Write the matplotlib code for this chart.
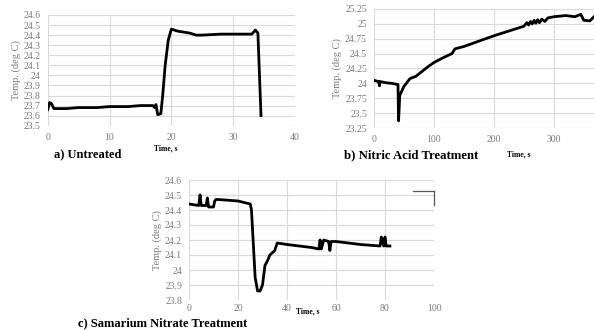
import numpy as np
import matplotlib
matplotlib.use('Agg')
import matplotlib.pyplot as plt

plt.rcParams['font.family'] = ['Liberation Serif', 'DejaVu Serif']

# ---------------------- data ----------------------
# a) Untreated
a_t = [0, 0.3, 0.6, 1.0, 3, 5, 8, 10, 13, 15, 17, 17.3, 17.5, 17.8, 18.3, 18.6, 19.0, 19.5, 20.0,
       21, 23, 24, 25, 28, 30, 33, 33.6, 34.0, 34.5]
a_T = [23.66, 23.73, 23.72, 23.67, 23.67, 23.68, 23.68, 23.69, 23.69, 23.70, 23.70, 23.68, 23.71, 23.61,
       23.62, 23.80, 24.10, 24.35, 24.46, 24.44, 24.42, 24.40, 24.40, 24.41, 24.41, 24.41, 24.45, 24.42, 23.60]

# b) Nitric Acid Treatment
b_t = [0, 8, 9, 10, 11, 20, 30, 40, 41, 43, 50, 60, 70, 80, 90, 100, 115, 130, 135, 150, 175, 200,
       225, 250, 255, 258, 261, 264, 267, 270, 273, 276, 280, 285, 290, 300, 320, 335, 345, 350, 360, 367]
b_T = [24.05, 24.03, 23.96, 24.03, 24.03, 24.01, 24.00, 23.98, 23.37, 23.80, 23.95, 24.08, 24.12, 24.20,
       24.28, 24.35, 24.43, 24.50, 24.58, 24.62, 24.71, 24.80, 24.88, 24.96, 25.02, 24.98, 25.04, 25.00,
       25.06, 25.01, 25.07, 25.02, 25.08, 25.04, 25.10, 25.12, 25.14, 25.12, 25.16, 25.06, 25.05, 25.12]

# c) Samarium Nitrate Treatment
c_t = [0, 4, 4.5, 5, 7, 7.5, 8, 8.5, 10, 10.5, 11, 12, 20, 25, 25.5, 27, 28, 29, 30, 31, 32, 33, 35,
       36, 40, 50, 53, 53.5, 54, 55, 57, 57.5, 58, 60, 70, 78, 78.5, 79.5, 80, 80.5, 82]
c_T = [24.44, 24.43, 24.50, 24.43, 24.43, 24.48, 24.42, 24.42, 24.42, 24.46, 24.47, 24.47, 24.46, 24.44,
       24.40, 23.95, 23.86, 23.86, 23.90, 24.03, 24.06, 24.10, 24.13, 24.18, 24.17, 24.15, 24.14, 24.20,
       24.14, 24.20, 24.19, 24.13, 24.19, 24.19, 24.17, 24.16, 24.22, 24.16, 24.22, 24.16, 24.16]

W, H = 594, 330
fig = plt.figure(figsize=(W / 100, H / 100), dpi=100)


def px_axes(x0, y_top, x1, y_bot):
    return fig.add_axes([x0 / W, 1 - y_bot / H, (x1 - x0) / W, (y_bot - y_top) / H])


def style(ax, xticks, yticks, xlim, ylim, ylabels=None):
    ax.set_xlim(*xlim)
    ax.set_ylim(*ylim)
    ax.set_xticks(xticks)
    ax.set_yticks(yticks)
    if ylabels is not None:
        ax.set_yticklabels(ylabels)
    for s in ax.spines.values():
        s.set_visible(False)
    ax.grid(True, color='#d9d9d9', linewidth=0.8)
    ax.set_axisbelow(True)
    ax.tick_params(length=0, labelsize=7, colors='#7a7a7a', pad=5)
    ax.set_ylabel('Temp. (deg C)', fontsize=7.5, color='#7a7a7a', labelpad=2)


def lbl(x, y, s, size):
    fig.text(x / W, 1 - y / H, s, fontsize=size, fontweight='bold', ha='center', va='center')


# a)
ax1 = px_axes(47.7, 15, 295, 125.7)
ax1.plot(a_t, a_T, color='black', lw=2.0)
style(ax1, [0, 10, 20, 30, 40], np.round(np.arange(23.5, 24.61, 0.1), 1), (0, 40), (23.5, 24.6),
      ['23.5', '23.6', '23.7', '23.8', '23.9', '24', '24.1', '24.2', '24.3', '24.4', '24.5', '24.6'])
lbl(88, 154, 'a) Untreated', 9)
lbl(166, 148, 'Time, s', 5.5)

# b)
ax2 = px_axes(374, 9, 594, 128)
ax2.plot(b_t, b_T, color='black', lw=2.0)
style(ax2, [0, 100, 200, 300], np.arange(23.25, 25.26, 0.25), (0, 367), (23.25, 25.25),
      ['23.25', '23.5', '23.75', '24', '24.25', '24.5', '24.75', '25', '25.25'])
lbl(411, 155, 'b) Nitric Acid Treatment', 9.2)
lbl(519, 154, 'Time, s', 5.5)

# c)
ax3 = px_axes(189, 180, 434, 300)
ax3.plot(c_t, c_T, color='black', lw=2.0)
style(ax3, [0, 20, 40, 60, 80, 100], np.round(np.arange(23.8, 24.61, 0.1), 1), (0, 100), (23.8, 24.6),
      ['23.8', '23.9', '24', '24.1', '24.2', '24.3', '24.4', '24.5', '24.6'])
ax3.tick_params(axis='x', pad=3)
lbl(163, 323, 'c) Samarium Nitrate Treatment', 9)
lbl(308, 311, 'Time, s', 5.5)

# small bracket at top right of panel c
fig.add_artist(plt.Line2D([413 / W, 434 / W], [1 - 191 / H, 1 - 191 / H], color='#555555', lw=0.9))
fig.add_artist(plt.Line2D([434 / W, 434 / W], [1 - 191 / H, 1 - 205 / H], color='#555555', lw=0.9))

fig.savefig('out.png', dpi=100)
